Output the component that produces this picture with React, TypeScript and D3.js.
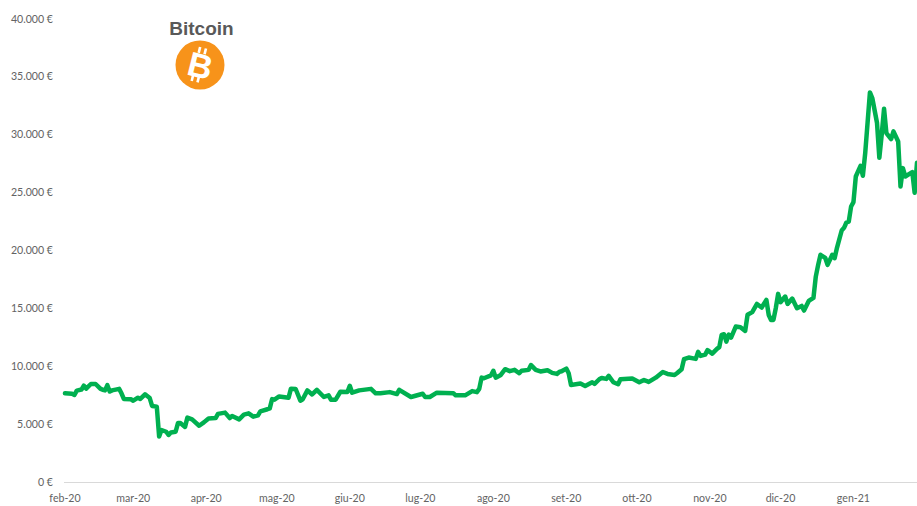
import * as d3 from "d3";

const WIDTH = 917;
const HEIGHT = 506;

const START = new Date(2020, 1, 1);
const END_DAY = 362;

// days since 1 feb 2020
const days = [
  0, 3, 4, 5, 7, 8, 9, 11, 13, 15, 16, 17, 18, 19, 20, 23, 24, 25, 28, 29, 31, 32, 34, 36, 37, 39, 40, 41, 43, 44, 45, 47,
  48, 49, 51, 52, 54, 57, 59, 61, 64, 65, 68, 70, 71, 74, 76, 78, 80, 82, 83, 86, 87, 88, 89, 91, 95, 96, 98, 100, 101,
  103, 105, 107, 110, 112, 113, 115, 117, 120, 121, 122, 125, 130, 132, 134, 138, 141, 142, 147, 152, 153, 155, 158, 165,
  166, 170, 173, 175, 176, 177, 178, 181, 182, 183, 185, 187, 189, 191, 193, 194, 197, 198, 200, 202, 205, 207, 209, 210,
  211, 213, 214, 215, 217, 219, 221, 224, 225, 227, 228, 230, 231, 233, 235, 236, 241, 244, 246, 248, 251, 254, 256, 259,
  260, 262, 263, 265, 268, 269, 270, 272, 273, 275, 277, 278, 279, 280, 281, 282, 283, 285, 287, 289, 290, 292, 294, 296,
  298, 299, 300, 301, 302, 303, 304, 306, 307, 309, 311, 313, 314, 316, 318, 319, 320, 321, 323, 324, 326, 327, 328, 330,
  331, 332, 333, 334, 335, 336, 338, 339, 340, 342, 343, 345, 346, 347, 348, 349, 351, 352, 354, 355, 356, 357, 360, 361,
  362,
];

const prices = [
  7700, 7650, 7550, 7930, 8020, 8365, 8100, 8500, 8500, 8100, 8000, 7950, 8400, 7850, 7950, 8080, 7700, 7210, 7180, 7060,
  7320, 7210, 7610, 7290, 6610, 6550, 3960, 4530, 4380, 4100, 4320, 4380, 5130, 5130, 4800, 5600, 5450, 4900, 5190, 5530,
  5560, 5920, 6030, 5560, 5740, 5450, 5860, 5970, 5680, 5800, 6140, 6320, 6400, 7200, 7150, 7430, 7320, 8100, 8070, 7060,
  7180, 7950, 7600, 8000, 7380, 7520, 7150, 7150, 7830, 7810, 8350, 7750, 7950, 8080, 7700, 7700, 7800, 7630, 8000, 7380,
  7660, 7380, 7380, 7750, 7700, 7520, 7520, 7890, 7800, 8080, 9050, 9000, 9250, 9640, 9050, 9250, 9780, 9610, 9720, 9430,
  9640, 9720, 10130, 9720, 9580, 9690, 9460, 9370, 9540, 9600, 9830, 9430, 8420, 8480, 8540, 8330, 8650, 8510, 8910, 9025,
  8940, 9200, 8650, 8480, 8910, 8970, 8650, 8850, 8680, 9050, 9540, 9370, 9280, 9430, 9780, 10640, 10780, 10670, 11270,
  10920, 11040, 11420, 11120, 11530, 11680, 12740, 12800, 12160, 12760, 12510, 13460, 13400, 13080, 14470, 14700, 15410,
  15100, 15760, 14460, 14030, 14030, 15040, 16280, 15560, 16050, 15410, 15870, 15040, 15240, 14840, 15670, 15930, 17770,
  18780, 19650, 19390, 18780, 19650, 19360, 20250, 21750, 21980, 22440, 22520, 23820, 24200, 26410, 27330, 26470, 28430,
  33660, 33180, 31050, 28020, 30010, 32250, 30150, 29640, 30300, 29430, 25540, 27130, 26410, 26790, 25000, 27600,
];

const monthLabels = ["feb-20", "mar-20", "apr-20", "mag-20", "giu-20", "lug-20", "ago-20", "set-20", "ott-20", "nov-20", "dic-20", "gen-21"];
const priceTicks = [0, 5000, 10000, 15000, 20000, 25000, 30000, 35000, 40000];

const toDate = (d: number) => d3.timeDay.offset(START, d);
const euro = (v: number) => `${d3.format(",")(v).replace(/,/g, ".")} €`;

const LABEL_FONT = "Lato, 'Open Sans', sans-serif";
const TEXT_COLOR = "#636363";

export default function App() {
  const x = d3.scaleTime().domain([START, toDate(END_DAY)]).range([65, WIDTH]);
  const y = d3.scaleLinear().domain([0, 40000]).range([482.5, 19]);

  const months = d3.timeMonth.range(START, toDate(END_DAY));

  const line = d3
    .line<number>()
    .x((d) => x(toDate(d)))
    .y((_, i) => y(prices[i]));

  return (
    <svg
      width={WIDTH}
      height={HEIGHT}
      viewBox={`0 0 ${WIDTH} ${HEIGHT}`}
      style={{ position: "absolute", left: 0, top: 0, background: "#fff" }}
    >
      <line x1={64} x2={WIDTH} y1={y(0)} y2={y(0)} stroke="#D9D9D9" strokeWidth={1} />

      {priceTicks.map((t) => (
        <text key={t} x={53} y={y(t) + 3.5} textAnchor="end" fontSize={10.6} fontFamily={LABEL_FONT} fill={TEXT_COLOR}>
          {euro(t)}
        </text>
      ))}

      {months.map((m, i) => (
        <text key={monthLabels[i]} x={x(m)} y={502} textAnchor="middle" fontSize={10.6} fontFamily={LABEL_FONT} fill={TEXT_COLOR}>
          {monthLabels[i]}
        </text>
      ))}

      <path d={line(days) ?? ""} fill="none" stroke="#00B050" strokeWidth={4.5} strokeLinejoin="round" strokeLinecap="round" />

      <text x={201.5} y={35} textAnchor="middle" fontSize={19} fontWeight="bold" fontFamily="'Liberation Sans', Arial, sans-serif" fill="#595959">
        Bitcoin
      </text>

      <g transform="translate(200,65)">
        <circle r={24.5} fill="#F7931A" />
        <g transform="rotate(14)" fill="#fff">
          <rect x={-5.5} y={-17.5} width={2.6} height={6} />
          <rect x={0.5} y={-17.5} width={2.6} height={6} />
          <rect x={-5.5} y={11.5} width={2.6} height={6} />
          <rect x={0.5} y={11.5} width={2.6} height={6} />
          <text x={0.5} y={12.5} textAnchor="middle" fontSize={34} fontWeight="bold" fontFamily="'Liberation Sans', Arial, sans-serif">
            B
          </text>
        </g>
      </g>
    </svg>
  );
}
